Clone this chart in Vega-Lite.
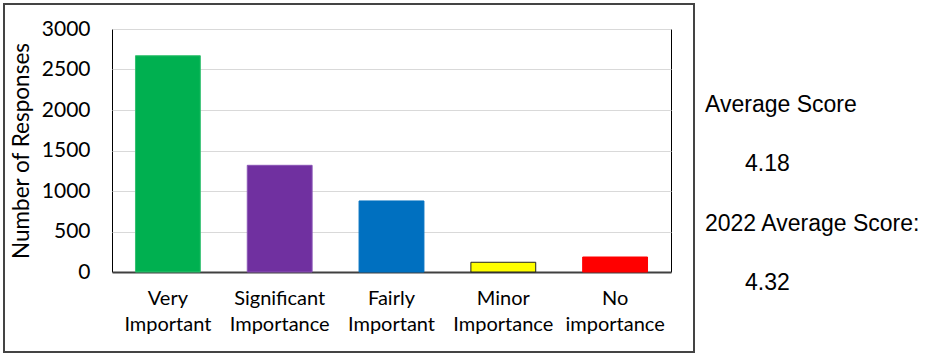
{
  "$schema": "https://vega.github.io/schema/vega-lite/v6.json",
  "autosize": "none",
  "width": 559,
  "height": 243,
  "padding": {"left": 112, "top": 29, "right": 264, "bottom": 84},
  "background": "white",
  "config": {
    "view": {"stroke": "black", "strokeWidth": 1},
    "font": "Lato"
  },
  "layer": [
    {
      "data": {"values": [{"frame": "outer"}]},
      "mark": {"type": "rect", "fill": null, "fillOpacity": 0, "stroke": "#444444", "strokeWidth": 2},
      "encoding": {
        "x": {"datum": 0, "type": "quantitative", "scale": {"domain": [0, 1], "range": [-108, 582]}, "axis": null},
        "x2": {"datum": 1},
        "y": {"datum": 0, "type": "quantitative", "scale": {"domain": [0, 1], "range": [323, -25]}, "axis": null},
        "y2": {"datum": 1}
      }
    },
    {
      "data": {"values": [
        {"category": "Very Important", "count": 2670},
        {"category": "Significant Importance", "count": 1317},
        {"category": "Fairly Important", "count": 877},
        {"category": "Minor Importance", "count": 120},
        {"category": "No importance", "count": 185}
      ]},
      "mark": {"type": "bar", "strokeWidth": 1},
      "encoding": {
        "x": {
          "field": "category", "type": "nominal", "sort": null,
          "scale": {"paddingInner": 0.42, "paddingOuter": 0.21},
          "axis": {
            "title": null, "labelAngle": 0, "ticks": false,
            "domain": true, "domainColor": "#404040", "domainWidth": 2,
            "labelExpr": "split(datum.label, ' ')",
            "labelFont": "Lato", "labelFontSize": 20, "labelColor": "black",
            "labelPadding": 16, "labelLineHeight": 26
          }
        },
        "y": {
          "field": "count", "type": "quantitative",
          "scale": {"domain": [0, 3000], "nice": false},
          "axis": {
            "title": "Number of Responses", "values": [0, 500, 1000, 1500, 2000, 2500, 3000], "format": "d",
            "grid": true, "gridColor": "#d9d9d9", "gridWidth": 1,
            "domain": false, "ticks": false,
            "labelFont": "Lato", "labelFontSize": 21, "labelColor": "black", "labelPadding": 22,
            "titleFont": "Lato", "titleFontSize": 22.5, "titleFontWeight": "normal", "titleColor": "black", "titlePadding": 8
          }
        },
        "color": {
          "field": "category", "type": "nominal",
          "scale": {
            "domain": ["Very Important", "Significant Importance", "Fairly Important", "Minor Importance", "No importance"],
            "range": ["#00B050", "#7030A0", "#0070C0", "#FFFF00", "#FF0000"]
          },
          "legend": null
        },
        "stroke": {
          "field": "category", "type": "nominal",
          "scale": {
            "domain": ["Very Important", "Significant Importance", "Fairly Important", "Minor Importance", "No importance"],
            "range": ["#33c070", "#8a55b5", "#0070C0", "#222222", "#FF0000"]
          },
          "legend": null
        }
      }
    },
    {
      "data": {"values": [
        {"line": "l1", "kind": "heading", "text": "Average Score"},
        {"line": "l2", "kind": "value", "text": "4.18"},
        {"line": "l3", "kind": "heading", "text": "2022 Average Score:"},
        {"line": "l4", "kind": "value", "text": "4.32"}
      ]},
      "mark": {"type": "text", "align": "left", "baseline": "middle", "font": "Liberation Sans", "fontSize": 23, "color": "black"},
      "encoding": {
        "x": {"field": "kind", "type": "nominal", "scale": {"type": "point", "padding": 0, "domain": ["heading", "value"], "range": [593, 633]}, "axis": null},
        "y": {"field": "line", "type": "nominal", "scale": {"type": "point", "padding": 0, "domain": ["l1", "l2", "l3", "l4"], "range": [76, 254]}, "axis": null},
        "text": {"field": "text"}
      }
    }
  ],
  "resolve": {"scale": {"x": "independent", "y": "independent", "color": "independent", "stroke": "independent"}}
}
